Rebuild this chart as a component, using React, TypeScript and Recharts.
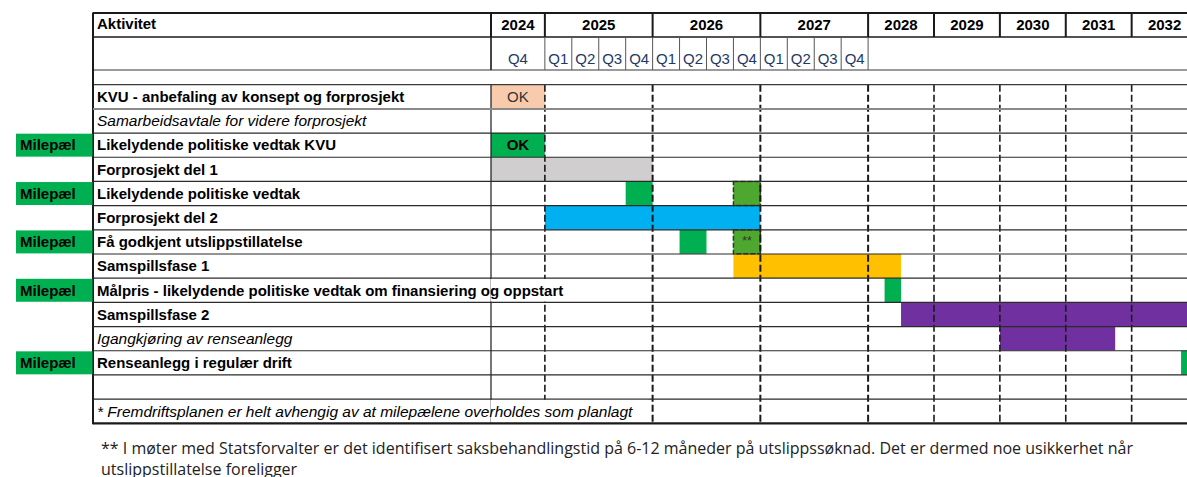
import React from 'react';
import { BarChart, Bar, XAxis, YAxis, ReferenceLine, Cell, LabelList } from 'recharts';

// rows of the plan, top to bottom
const activities = [
  'KVU - anbefaling av konsept og forprosjekt',
  'Samarbeidsavtale for videre forprosjekt',
  'Likelydende politiske vedtak KVU',
  'Forprosjekt del 1',
  'Likelydende politiske vedtak',
  'Forprosjekt del 2',
  'Få godkjent utslippstillatelse',
  'Samspillsfase 1',
  'Målpris - likelydende politiske vedtak om finansiering og oppstart',
  'Samspillsfase 2',
  'Igangkjøring av renseanlegg',
  'Renseanlegg i regulær drift',
  '',
  '* Fremdriftsplanen er helt avhengig av at milepælene overholdes som planlagt',
];
const isMilestone = [false, false, true, false, true, false, true, false, true, false, false, true, false, false];
const isItalic = [false, true, false, false, false, false, false, false, false, false, true, false, false, true];

// first segment of each row (decimal years)
const seg1From = [2024.75, null, 2024.75, 2024.75, 2025.75, 2025, 2026.25, 2026.75, 2028.25, 2028.5, 2030, 2032.75, null, null];
const seg1To = [2025, null, 2025, 2026, 2026, 2027, 2026.5, 2028.5, 2028.5, 2033.5, 2031.75, 2033.5, null, null];
const seg1Kind = ['done', null, 'doneMilestone', 'part1', 'milestone', 'part2', 'milestone', 'phase1', 'milestone', 'phase2', 'phase2', 'milestone', null, null];
const seg1Label = ['OK', null, 'OK', null, null, null, null, null, null, null, null, null, null, null];

// second (uncertain) segment
const seg2From = [null, null, null, null, 2026.75, null, 2026.75, null, null, null, null, null, null, null];
const seg2To = [null, null, null, null, 2027, null, 2027, null, null, null, null, null, null, null];
const seg2Label = [null, null, null, null, null, null, '**', null, null, null, null, null, null, null];

const years = ['2024', '2025', '2026', '2027', '2028', '2029', '2030', '2031', '2032'];
const yearFrom = [2024.75, 2025, 2026, 2027, 2028, 2029, 2030, 2031, 2032];
const yearTo = [2025, 2026, 2027, 2028, 2029, 2030, 2031, 2032, 2033];
const quarters = ['Q4', 'Q1', 'Q2', 'Q3', 'Q4', 'Q1', 'Q2', 'Q3', 'Q4', 'Q1', 'Q2', 'Q3', 'Q4'];
const quarterFrom = [2024.75, 2025, 2025.25, 2025.5, 2025.75, 2026, 2026.25, 2026.5, 2026.75, 2027, 2027.25, 2027.5, 2027.75];
const viewEnd = 2032.84;

const footnote = [
  '** I møter med Statsforvalter er det identifisert saksbehandlingstid på 6-12 måneder på utslippssøknad. Det er dermed noe usikkerhet når',
  'utslippstillatelse foreligger',
];

const KIND: Record<string, any> = {
  done: { fill: '#F8CBAD' },
  doneMilestone: { fill: '#00B050' },
  milestone: { fill: '#00B050' },
  part1: { fill: '#D0CECE' },
  part2: { fill: '#00B0F0' },
  phase1: { fill: '#FFC000' },
  phase2: { fill: '#7030A0' },
  tentative: { fill: '#4EA72E', stroke: '#243d1a', strokeDasharray: '5 2', strokeWidth: 1.5 },
};

// the sheet has quarter columns 2024 Q4 - 2027, wider first column and year columns after
const YEAR_W = 2.446;
function toUnit(y: number) {
  if (y < 2025) return (y - 2024.75) * 8;
  if (y < 2028) return 2 + (y - 2025) * 4;
  return 14 + (y - 2028) * YEAR_W;
}

const rows = activities.map((activity, i) => ({
  key: i,
  activity,
  seg1: seg1From[i] != null ? [toUnit(seg1From[i] as number), toUnit(seg1To[i] as number)] : null,
  seg2: seg2From[i] != null ? [toUnit(seg2From[i] as number), toUnit(seg2To[i] as number)] : null,
}));

const W = 1187;
const TAG_L = 16;
const TABLE_L = 93;
const PLOT_L = 491;
const TOP = 12.5;
const ROW1_B = 37;
const ROW2_B = 70;
const PLOT_T = 84.7;
const PLOT_B = 423.3;
const ROW_H = (PLOT_B - PLOT_T) / activities.length;
const FONT = '"Liberation Sans", Arial, sans-serif';
const INK = '#1a1a1a';

// header ticks: everything drawn at one x position is grouped under its value
const k = (v: number) => v.toFixed(4);
const header = new Map<string, any[]>();
const put = (v: number, item: any) => {
  const key = k(v);
  if (!header.has(key)) header.set(key, []);
  header.get(key)!.push(item);
};
put(toUnit(yearFrom[0]), { type: 'frame' });
years.forEach((y, i) => {
  put((toUnit(yearFrom[i]) + toUnit(yearTo[i])) / 2, { type: 'year', text: y });
  put(toUnit(yearFrom[i]), { type: 'yearLine' });
});
quarters.forEach((q, i) => {
  const from = quarterFrom[i];
  put((toUnit(from) + toUnit(from + 0.25)) / 2, { type: 'quarter', text: q });
  put(toUnit(from), { type: 'quarterLine', first: i === 0 });
});
put(toUnit(2028), { type: 'quarterLine', first: false });
const headerTicks = Array.from(header.keys()).map(Number);

const HeaderTick = (props: any) => {
  const { x, payload } = props;
  const items = header.get(k(payload.value)) || [];
  return (
    <g>
      {items.map((it, j) => {
        if (it.type === 'frame') {
          return (
            <g key={j}>
              <line x1={TABLE_L} x2={W} y1={TOP + 0.5} y2={TOP + 0.5} stroke={INK} strokeWidth={2} />
              <line x1={TABLE_L} x2={W} y1={ROW1_B} y2={ROW1_B} stroke={INK} strokeWidth={1.6} />
              <line x1={TABLE_L} x2={W} y1={ROW2_B} y2={ROW2_B} stroke="#7a7a7a" strokeWidth={1.5} />
              <line x1={TABLE_L} x2={W} y1={PLOT_T} y2={PLOT_T} stroke="#3a3a3a" strokeWidth={1.3} />
              <line x1={TABLE_L} x2={TABLE_L} y1={TOP} y2={PLOT_B + 1} stroke={INK} strokeWidth={2} />
              <text x={TABLE_L + 4} y={TOP + 17} fontFamily={FONT} fontSize={15} fontWeight="bold" fill="#000">
                Aktivitet
              </text>
            </g>
          );
        }
        if (it.type === 'year') {
          return (
            <text key={j} x={x} y={TOP + 17.5} textAnchor="middle" fontFamily={FONT} fontSize={15} fontWeight="bold" fill="#000">
              {it.text}
            </text>
          );
        }
        if (it.type === 'quarter') {
          return (
            <text key={j} x={x} y={ROW2_B - 5.5} textAnchor="middle" fontFamily={FONT} fontSize={15} fill="#1f3864">
              {it.text}
            </text>
          );
        }
        if (it.type === 'yearLine') {
          return <line key={j} x1={x} x2={x} y1={TOP} y2={ROW1_B} stroke={INK} strokeWidth={2} />;
        }
        return (
          <line
            key={j}
            x1={x}
            x2={x}
            y1={ROW1_B}
            y2={ROW2_B}
            stroke={it.first ? INK : '#555'}
            strokeWidth={it.first ? 1.6 : 1}
          />
        );
      })}
    </g>
  );
};

const RowTick = (props: any) => {
  const { y, payload } = props;
  const i = Number(payload.value);
  const top = y - ROW_H / 2;
  const text = activities[i];
  const spills = i === 8 || i === activities.length - 1;
  const last = i === activities.length - 1;
  return (
    <g>
      {isMilestone[i] && (
        <g>
          <rect x={TAG_L} y={top + 0.6} width={TABLE_L - TAG_L - 0.5} height={ROW_H - 1.2} fill="#00B050" />
          <text x={TAG_L + 4} y={y + 5.3} fontFamily={FONT} fontSize={15} fontWeight="bold" fill="#000">
            Milepæl
          </text>
        </g>
      )}
      {spills && (
        <rect x={PLOT_L - 0.5} y={top + 0.8} width={last ? 158 : 104} height={ROW_H - 1.6} fill="#fff" />
      )}
      <line
        x1={TABLE_L}
        x2={W}
        y1={top + ROW_H}
        y2={top + ROW_H}
        stroke={last ? INK : i === 0 ? '#8a8a8a' : '#2a2a2a'}
        strokeWidth={last ? 2.2 : i === 0 ? 2 : 1.2}
      />
      <text
        x={TABLE_L + 4}
        y={y + 5.3}
        fontFamily={FONT}
        fontSize={isItalic[i] ? 15.5 : 15}
        fontWeight={isItalic[i] ? 'normal' : 'bold'}
        fontStyle={isItalic[i] ? 'italic' : 'normal'}
        fill="#000"
      >
        {text}
      </text>
    </g>
  );
};

// label content looks up its row by key, so it knows the text and the kind
const makeLabel = (labels: (string | null)[]) => (props: any) => {
  const { x, y, width, height, value } = props;
  const i = Number(value);
  const text = labels[i];
  if (!text || !isFinite(x) || !isFinite(width)) return null;
  const bold = seg1Kind[i] === 'doneMilestone' && labels === seg1Label;
  const small = text === '**';
  return (
    <text
      x={x + width / 2}
      y={y + height / 2 + (small ? 3 : 5.3)}
      textAnchor="middle"
      fontFamily={FONT}
      fontSize={small ? 12 : 15}
      fontWeight={bold ? 'bold' : 'normal'}
      fill={bold ? '#000' : '#333'}
    >
      {text}
    </text>
  );
};
const Label1 = makeLabel(seg1Label);
const Label2 = makeLabel(seg2Label);

const dashedYears = [2025, 2026, 2027, 2028, 2029, 2030, 2031, 2032];

export default function App() {
  return (
    <div style={{ position: 'absolute', left: 0, top: 0, width: W, height: 477, overflow: 'hidden', background: '#fff' }}>
      <BarChart
        width={W}
        height={PLOT_B + 3}
        data={rows}
        layout="vertical"
        margin={{ top: TOP, right: 0, bottom: 3, left: TAG_L }}
        barCategoryGap={0}
        barGap={0}
      >
        <XAxis
          type="number"
          orientation="top"
          domain={[0, toUnit(viewEnd)]}
          allowDataOverflow
          ticks={headerTicks}
          interval={0}
          height={PLOT_T - TOP}
          axisLine={false}
          tickLine={false}
          tick={<HeaderTick />}
        />
        <YAxis yAxisId="b" type="category" dataKey="key" hide />
        <Bar dataKey="seg1" isAnimationActive={false}>
          {rows.map((r, i) => (
            <Cell key={i} {...(KIND[seg1Kind[i] || 'part1'])} />
          ))}
          <LabelList dataKey="key" content={Label1} />
        </Bar>
        <Bar dataKey="seg2" yAxisId="b" isAnimationActive={false}>
          {rows.map((r, i) => (
            <Cell key={i} {...KIND.tentative} />
          ))}
          <LabelList dataKey="key" content={Label2} />
        </Bar>
        {dashedYears.map((y) => (
          <ReferenceLine
            key={y}
            x={toUnit(y)}
            stroke={INK}
            strokeWidth={y >= 2026 && y <= 2028 ? 2 : 1.6}
            strokeDasharray="7 3"
            zIndex={400}
          />
        ))}
        <YAxis
          type="category"
          dataKey="key"
          width={PLOT_L - TAG_L}
          axisLine={{ stroke: INK, strokeWidth: 1.2 }}
          tickLine={false}
          interval={0}
          tick={<RowTick />}
          zIndex={900}
        />
      </BarChart>
      <div
        style={{
          position: 'absolute',
          left: 101,
          top: 438,
          fontFamily: '"Open Sans", sans-serif',
          fontSize: 16,
          lineHeight: '21px',
          color: '#222',
          whiteSpace: 'nowrap',
        }}
      >
        {footnote.map((line, i) => (
          <div key={i}>{line}</div>
        ))}
      </div>
    </div>
  );
}
